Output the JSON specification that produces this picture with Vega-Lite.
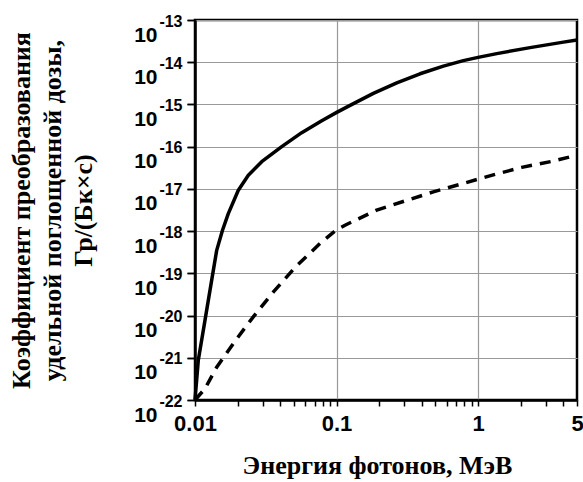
{
  "$schema": "https://vega.github.io/schema/vega-lite/v6.json",
  "width": 382,
  "height": 380,
  "autosize": {"type": "none"},
  "padding": {"left": 195, "top": 20, "right": 6, "bottom": 82},
  "background": "white",
  "config": {"view": {"stroke": "black", "strokeWidth": 2.5}},
  "datasets": {
    "solid": [
      {"E": 0.01, "K": 1e-22},
      {"E": 0.01055, "K": 8.7e-22},
      {"E": 0.01177, "K": 7.8e-21},
      {"E": 0.01312, "K": 6.9e-20},
      {"E": 0.01423, "K": 3.5e-19},
      {"E": 0.01564, "K": 1.05e-18},
      {"E": 0.01719, "K": 2.6e-18},
      {"E": 0.02023, "K": 9.3e-18},
      {"E": 0.02381, "K": 2.1e-17},
      {"E": 0.02961, "K": 4.4e-17},
      {"E": 0.041, "K": 1.0e-16},
      {"E": 0.05675, "K": 2.15e-16},
      {"E": 0.0786, "K": 4.13e-16},
      {"E": 0.1003, "K": 6.48e-16},
      {"E": 0.1246, "K": 9.5e-16},
      {"E": 0.182, "K": 1.83e-15},
      {"E": 0.2664, "K": 3.25e-15},
      {"E": 0.389, "K": 5.33e-15},
      {"E": 0.5687, "K": 8.1e-15},
      {"E": 0.787, "K": 1.09e-14},
      {"E": 1.0, "K": 1.3e-14},
      {"E": 1.356, "K": 1.6e-14},
      {"E": 2.33, "K": 2.22e-14},
      {"E": 4.01, "K": 2.99e-14},
      {"E": 5, "K": 3.36e-14}
    ],
    "dashed": [
      {"E": 0.01, "K": 1e-22},
      {"E": 0.01177, "K": 1.86e-22},
      {"E": 0.01423, "K": 6.0e-22},
      {"E": 0.0192, "K": 2.5e-21},
      {"E": 0.0258, "K": 9.3e-21},
      {"E": 0.0357, "K": 3.6e-20},
      {"E": 0.0509, "K": 1.38e-19},
      {"E": 0.0765, "K": 5.1e-19},
      {"E": 0.0992, "K": 1.05e-18},
      {"E": 0.1148, "K": 1.38e-18},
      {"E": 0.19, "K": 3.1e-18},
      {"E": 0.305, "K": 5.2e-18},
      {"E": 0.483, "K": 8.5e-18},
      {"E": 0.787, "K": 1.35e-17},
      {"E": 1.262, "K": 2.12e-17},
      {"E": 2.037, "K": 3.24e-17},
      {"E": 3.41, "K": 4.57e-17},
      {"E": 5, "K": 6.3e-17}
    ]
  },
  "encoding": {
    "x": {
      "field": "E",
      "type": "quantitative",
      "scale": {"type": "log", "domain": [0.01, 5], "nice": false},
      "axis": {
        "orient": "bottom",
        "values": [0.01, 0.02, 0.03, 0.04, 0.05, 0.06, 0.07, 0.08, 0.09, 0.1, 0.2, 0.3, 0.4, 0.5, 0.6, 0.7, 0.8, 0.9, 1, 2, 3, 4, 5],
        "labelExpr": "indexof([0.01, 0.1, 1, 5], datum.value) >= 0 ? format(datum.value, '~g') : ''",
        "labelFont": "Liberation Sans",
        "labelFontWeight": "bold",
        "labelFontSize": 22,
        "labelColor": "black",
        "labelPadding": 7,
        "labelOverlap": false,
        "labelFlush": false,
        "tickColor": "black",
        "tickSize": 6,
        "tickWidth": 1.5,
        "domainColor": "black",
        "domainWidth": 2.5,
        "grid": true,
        "gridColor": "#999999",
        "gridWidth": 1.2,
        "gridOpacity": {"condition": {"test": "datum.value === 0.1 || datum.value === 1", "value": 1}, "value": 0},
        "title": "Энергия фотонов, МэВ",
        "titleFont": "Liberation Serif",
        "titleFontSize": 26,
        "titleFontWeight": "bold",
        "titleColor": "black",
        "titleX": 182,
        "titlePadding": 18
      }
    }
  },
  "layer": [
    {
      "data": {"name": "solid"},
      "mark": {"type": "line", "color": "black", "strokeWidth": 3.5, "strokeJoin": "round"},
      "encoding": {
        "y": {
          "field": "K",
          "type": "quantitative",
          "scale": {"type": "log", "domain": [1e-22, 1e-13], "nice": false},
          "axis": {
            "orient": "left",
            "values": [1e-22, 1e-21, 1e-20, 1e-19, 1e-18, 1e-17, 1e-16, 1e-15, 1e-14, 1e-13],
            "labelExpr": "'10'",
            "labelFont": "Liberation Sans",
            "labelFontWeight": "bold",
            "labelFontSize": 21,
            "labelColor": "black",
            "labelAlign": "right",
            "labelBaseline": "middle",
            "labelOffset": 15,
            "labelPadding": 30,
            "labelOverlap": false,
            "labelFlush": false,
            "tickColor": "black",
            "tickSize": 8,
            "tickWidth": 1.5,
            "domainColor": "black",
            "domainWidth": 2.5,
            "grid": true,
            "gridColor": "#999999",
            "gridWidth": 1.2,
            "title": ["Коэффициент преобразования", "удельной поглощенной дозы,", "Гр/(Бк×с)"],
            "titleFont": "Liberation Serif",
            "titleFontSize": 26,
            "titleFontWeight": "bold",
            "titleColor": "black",
            "titleLineHeight": 31,
            "titlePadding": 37
          }
        }
      }
    },
    {
      "data": {"name": "dashed"},
      "mark": {"type": "line", "color": "black", "strokeWidth": 3.5, "strokeDash": [11, 8]},
      "encoding": {
        "y": {
          "field": "K",
          "type": "quantitative",
          "axis": {
            "orient": "left",
            "values": [1e-22, 1e-21, 1e-20, 1e-19, 1e-18, 1e-17, 1e-16, 1e-15, 1e-14, 1e-13],
            "labelExpr": "'' + round(log(datum.value) / LN10)",
            "labelFont": "Liberation Sans",
            "labelFontWeight": "bold",
            "labelFontSize": 16,
            "labelColor": "black",
            "labelAlign": "right",
            "labelBaseline": "middle",
            "labelOffset": 1,
            "labelPadding": 5,
            "labelOverlap": false,
            "labelFlush": false,
            "tickColor": "black",
            "tickSize": 8,
            "tickWidth": 1.5,
            "domain": false,
            "grid": false,
            "title": null
          }
        }
      }
    }
  ],
  "resolve": {"axis": {"y": "independent"}}
}
